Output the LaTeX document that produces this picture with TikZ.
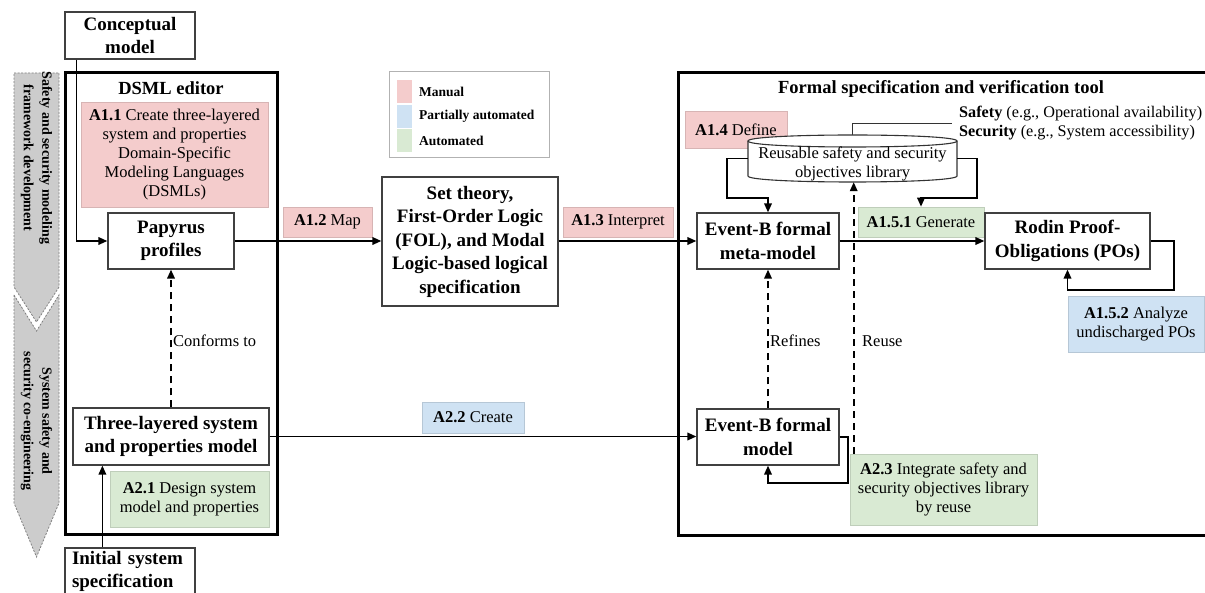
\documentclass[tikz,border=0pt]{standalone}
\usepackage{fontspec}
\setmainfont{Liberation Serif}
\usetikzlibrary{arrows.meta,calc}
\definecolor{manual}{HTML}{F4CCCC}
\definecolor{partial}{HTML}{CFE2F3}
\definecolor{autom}{HTML}{D9EAD3}
\definecolor{chev}{HTML}{CCCCCC}
\begin{document}
\begin{tikzpicture}[x=1pt,y=-1pt,
  box/.style={draw=black!75, line width=1.2pt, fill=white, align=center, inner sep=2pt,
    font=\bfseries\fontsize{19}{23.5}\selectfont},
  act/.style={line width=0.6pt, align=center, inner sep=2pt, font=\fontsize{16.5}{19}\selectfont},
  manualbox/.style={act, fill=manual, draw=manual!88!black},
  partialbox/.style={act, fill=partial, draw=partial!88!black},
  autobox/.style={act, fill=autom, draw=autom!88!black},
  frame/.style={draw=black, line width=3pt},
  title/.style={font=\bfseries\fontsize{18.5}{22}\selectfont, inner sep=1pt},
  arr/.style={line width=1.8pt, -{Triangle[length=9pt,width=7.5pt]}},
  darr/.style={arr, dash pattern=on 7pt off 5pt},
  lbl/.style={font=\fontsize{16.5}{19}\selectfont, anchor=west, inner sep=1pt},
  legtext/.style={font=\bfseries\fontsize{13.5}{16}\selectfont, anchor=west, inner sep=0pt},
  swatch/.style={minimum width=15pt, minimum height=23pt, inner sep=0pt},
  chevshape/.style={fill=chev, draw=black!50, line width=0.8pt, dash pattern=on 2pt off 1.5pt},
  chevtext/.style={rotate=-90, align=center, inner sep=0pt, font=\bfseries\fontsize{14}{18.5}\selectfont},
  thinline/.style={draw=black!80, line width=1.1pt}
]
\useasboundingbox (0,0) rectangle (1205,593);

% left chevrons
\draw[chevshape] (14,73) -- (59,73) -- (59,287) -- (36.5,322) -- (14,287) -- cycle;
\draw[chevshape] (14,295) -- (36.5,331) -- (59,295) -- (59,503) -- (36.5,557) -- (14,503) -- cycle;
\node[chevtext] (chev1) at (36.5,158) {Safety and security modeling\\framework development};
\node[chevtext] (chev2) at (36.5,421) {System safety and\\security co-engineering};

% frames
\draw[frame] (65,73) rectangle (277,534);
\draw[frame] (678,73) rectangle (1222,535);
\node[title] (dsmltitle) at (171,88) {DSML editor};
\node[title] (formaltitle) at (941,89) {Formal specification and verification tool};

% legend
\node[draw=black!30, line width=1pt, minimum width=160pt, minimum height=86pt, inner sep=0pt] (legend) at (469,115) {};
\node[swatch, fill=manual] (sw1) at (404.5,91.5) {};
\node[swatch, fill=partial] (sw2) at (404.5,116.5) {};
\node[swatch, fill=autom] (sw3) at (404.5,140.5) {};
\node[legtext] (lg1) at (419,91.5) {Manual};
\node[legtext] (lg2) at (419,116.5) {Partially automated};
\node[legtext] (lg3) at (419,140.5) {Automated};

% activity boxes
\node[manualbox, minimum width=187pt, minimum height=105pt] (a11) at (174.5,154.5)
  {\textbf{A1.1} Create three-layered\\system and properties\\Domain-Specific\\Modeling Languages\\(DSMLs)};
\node[manualbox, minimum width=89pt, minimum height=30pt] (a12) at (327.5,222) {\textbf{A1.2} Map};
\node[manualbox, minimum width=110pt, minimum height=30pt] (a13) at (618,222) {\textbf{A1.3} Interpret};
\node[manualbox, minimum width=102pt, minimum height=37pt] (a14) at (736,129.5) {\textbf{A1.4} Define};
\node[autobox, minimum width=126pt, minimum height=30pt] (a151) at (921,222) {\textbf{A1.5.1} Generate};
\node[partialbox, minimum width=136pt, minimum height=56pt] (a152) at (1136,324) {\textbf{A1.5.2} Analyze\\undischarged POs};
\node[autobox, minimum width=159pt, minimum height=56pt] (a21) at (189.5,499) {\textbf{A2.1} Design system\\model and properties};
\node[partialbox, minimum width=102pt, minimum height=31pt] (a22) at (473,417.5) {\textbf{A2.2} Create};
\node[autobox, minimum width=187pt, minimum height=71pt] (a23) at (943.5,489.5) {\textbf{A2.3} Integrate safety and\\security objectives library\\by reuse};

% main boxes
\node[box, minimum width=130pt, minimum height=47pt] (concept) at (130,35.5) {Conceptual\\model};
\node[box, minimum width=126pt, minimum height=56pt] (papyrus) at (171,241) {Papyrus\\profiles};
\node[box, minimum width=196pt, minimum height=57pt] (three) at (171,436.5) {Three-layered system\\and properties model};
\node[box, minimum width=130pt, minimum height=47pt, text width=116pt, align=left] (initial) at (130,571.5) {Initial system\\specification};
\node[box, minimum width=176pt, minimum height=129pt] (settheory) at (470,241.5) {Set theory,\\First-Order Logic\\(FOL), and Modal\\Logic-based logical\\specification};
\node[box, minimum width=142pt, minimum height=56pt] (metamodel) at (768,241) {Event-B formal\\meta-model};
\node[box, minimum width=165pt, minimum height=56pt] (rodin) at (1067.5,241) {Rodin Proof-\\Obligations (POs)};
\node[box, minimum width=142pt, minimum height=56pt] (formalmodel) at (768,437) {Event-B formal\\model};

% library cylinder
\node[minimum width=209pt, minimum height=47pt, inner sep=0pt] (lib) at (852.5,158.5) {};
\node[anchor=west, align=left, inner xsep=7pt, inner ysep=1pt, font=\fontsize{16.2}{19}\selectfont] (objtxt) at (952,123.5)
  {\textbf{Safety} (e.g., Operational availability)\\\textbf{Security} (e.g., System accessibility)};
\draw[thinline] (lib.north) |- (objtxt.west);
\draw[thinline, fill=white] (748,141) -- (748,176) .. controls (748,184) and (957,184) .. (957,176) -- (957,141)
  .. controls (957,133) and (748,133) .. (748,141) -- cycle;
\draw[thinline] (748,141) .. controls (748,149) and (957,149) .. (957,141);
\node[font=\fontsize{16.5}{19}\selectfont, align=center, inner sep=0pt] (libtext) at ($(lib.center)+(0,5)$)
  {Reusable safety and security\\objectives library};

% connectors
\draw[arr] ($(concept.south west)+(12,0)$) |- (papyrus.west);
\draw[arr] (papyrus.east) -- (papyrus.east -| settheory.west);
\draw[arr] (settheory.east |- metamodel.west) -- (metamodel.west);
\draw[arr] (metamodel.east) -- (rodin.west);
\draw[arr] (rodin.east) -| ++(23,49) -| (rodin.south);
\draw[arr] (three.east) -- (three.east -| formalmodel.west);
\draw[arr] (formalmodel.east) -| ++(8,46) -| (formalmodel.south);
\coordinate (i1) at ($(initial.north west)+(38,0)$);
\draw[arr] (i1) -- (i1 |- three.south);
\draw[darr] (three.north) -- (papyrus.south);
\draw[darr] (formalmodel.north) -- (metamodel.south);
\coordinate (r1) at ($(a23.north west)+(4,0)$);
\draw[darr] (r1) -- (r1 |- lib.south);
\draw[arr] (lib.west) -- ++(-21,0) -- ++(0,39.5) -| (metamodel.north);
\draw[arr] (lib.east) -- ++(20,0) -- ++(0,39.5) -| (a151.north);

\node[lbl] (conf) at (172,341) {Conforms to};
\node[lbl] (ref) at (769,341) {Refines};
\node[lbl] (reu) at (861,341) {Reuse};
\end{tikzpicture}
\end{document}
